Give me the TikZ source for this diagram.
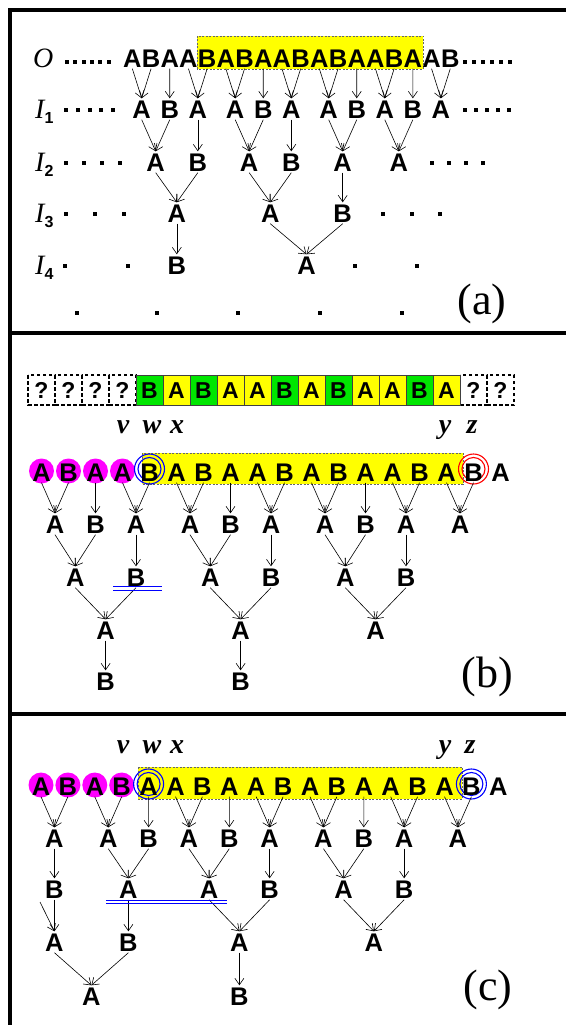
\documentclass[tikz,border=0pt]{standalone}
\usepackage{fontspec}
\setmainfont{Liberation Serif}
\setsansfont{Liberation Sans}
\usetikzlibrary{arrows.meta}
\definecolor{hlyel}{RGB}{255,255,0}
\definecolor{boxgrn}{RGB}{0,230,0}
\definecolor{cmag}{RGB}{255,0,255}
\definecolor{cblu}{RGB}{0,0,255}
\definecolor{cred}{RGB}{255,0,0}
\begin{document}
\begin{tikzpicture}[x=1pt,y=-1pt,
  lt/.style={font=\sffamily\bfseries\fontsize{25.5}{25.5}\selectfont, inner xsep=0pt, inner ysep=1.5pt, text height=18pt, text depth=0pt},
  bl/.style={font=\sffamily\bfseries\fontsize{23}{23}\selectfont, inner sep=0pt, text height=16pt, text depth=0pt},
  ar/.style={-{Straight Barb[length=6.5pt,width=9pt]}, line width=0.6pt},
  lab/.style={font=\bfseries\itshape\fontsize{28}{28}\selectfont, inner sep=0pt, text height=13pt, text depth=0pt},
  ilab/.style={font=\itshape\fontsize{28}{28}\selectfont, inner sep=0pt, anchor=west, text height=18pt, text depth=0pt},
  plab/.style={font=\fontsize{44}{44}\selectfont, inner sep=0pt},
  frame/.style={line width=4pt},
  hl/.style={fill=hlyel, draw=black!60, dash pattern=on 2pt off 1.5pt, line width=0.6pt},
  qbox/.style={draw, line width=1.8pt, dash pattern=on 3.5pt off 2.5pt},
  cbox/.style={draw=black!75, line width=0.8pt},
  dbl/.style={cblu, line width=1pt},
]
\useasboundingbox (0,0) rectangle (566,1025);
% frame
\draw[frame] (9.5,1025) -- (9.5,10.5) -- (566,10.5);
\draw[frame] (9.5,333) -- (566,333);
\draw[frame] (9.5,714) -- (566,714);

% ================= panel (a)
\draw[hl] (197,36) rectangle (423,69);
\foreach \c [count=\i from 0] in {A,B,A,A,B,A,B,A,A,B,A,B,A,A,B,A,A,B}
  \node[lt] (o\i) at ({123+18.7*(\i+0.5)},58) {\c};
\foreach \c/\x [count=\i from 0] in {A/141.7,B/169.75,A/197.8,A/235.2,B/263.25,A/291.3,A/328.7,B/356.75,A/384.8,B/412.85,A/440.9}
  \node[lt] (p\i) at (\x,109) {\c};
\foreach \c/\x [count=\i from 0] in {A/155.7,B/197.8,A/249.2,B/291.3,A/342.7,A/398.8}
  \node[lt] (q\i) at (\x,162) {\c};
\foreach \c/\x [count=\i from 0] in {A/176.8,A/270.3,B/342.7}
  \node[lt] (r\i) at (\x,213) {\c};
\foreach \c/\x [count=\i from 0] in {B/176.8,A/306.5}
  \node[lt] (s\i) at (\x,265) {\c};
\foreach \a/\b in {o0/p0,o1/p0,o2/p1,o3/p2,o4/p2,o5/p3,o6/p3,o7/p4,o8/p5,o9/p5,o10/p6,o11/p6,o12/p7,o13/p8,o14/p8,o15/p9,o16/p10,o17/p10,
  p0/q0,p1/q0,p2/q1,p3/q2,p4/q2,p5/q3,p6/q4,p7/q4,p8/q5,p9/q5,
  q0/r0,q1/r0,q2/r1,q3/r1,q4/r2,
  r0/s0,r1/s1,r2/s1}
  \draw[ar] (\a.south) -- (\b.north);
\node[ilab] (lO) at (33,58) {O};
\node[ilab] (lI1) at (35,109) {I\raisebox{-5pt}{\sffamily\bfseries\upshape\fontsize{16}{16}\selectfont 1}};
\node[ilab] (lI2) at (35,162) {I\raisebox{-5pt}{\sffamily\bfseries\upshape\fontsize{16}{16}\selectfont 2}};
\node[ilab] (lI3) at (35,213) {I\raisebox{-5pt}{\sffamily\bfseries\upshape\fontsize{16}{16}\selectfont 3}};
\node[ilab] (lI4) at (35,265) {I\raisebox{-5pt}{\sffamily\bfseries\upshape\fontsize{16}{16}\selectfont 4}};
\foreach \x/\y in {67/62,75.3/62,83.6/62,91.9/62,100.2/62,108.5/62,
  465/62,474/62,483/62,492/62,501/62,510/62,
  66/110,77.8/110,89.6/110,101.4/110,113.2/110,
  465/110,476/110,487/110,498/110,509/110,
  66/163,84/163,102/163,120/163,
  432/163,449/163,466/163,483/163,
  66/214,95/214,124/214,
  383/214,412/214,440/214,
  65/266,128/266,355/266,417/266,
  77/313,157/313,238/313,320/313,402/313}
  \fill (\x-2,\y-2) rectangle (\x+2,\y+2);
\node[plab] (pa) at (482,304) {(a)};

% ================= panel (b)
\foreach \i in {0,1,2,3,16,17} {
  \draw[qbox] ({28+27*\i},375) rectangle ({55+27*\i},405);
  \node[bl] (bq\i) at ({41.5+27*\i},390) {?};
}
\foreach \c/\col [count=\i from 4] in {B/boxgrn,A/hlyel,B/boxgrn,A/hlyel,A/hlyel,B/boxgrn,A/hlyel,B/boxgrn,A/hlyel,A/hlyel,B/boxgrn,A/hlyel} {
  \draw[cbox, fill=\col] ({28+27*\i},375) rectangle ({55+27*\i},405);
  \node[bl] (bc\i) at ({41.5+27*\i},390) {\c};
}
\node[lab] (bv) at (123,427) {v};
\node[lab] (bw) at (152,427) {w};
\node[lab] (bx) at (177,427) {x};
\node[lab] (by) at (445,427) {y};
\node[lab] (bz) at (472,427) {z};
\draw[hl] (142,453) rectangle (463,484);
\foreach \i in {0,...,3} \fill[cmag] ({41.5+27*\i},471) circle[radius=12.5pt];
\draw[cblu, line width=1.1pt] (149.5,469) circle[radius=15pt] circle[radius=11.5pt];
\draw[cred, line width=1.1pt] (473.5,469) circle[radius=15pt] circle[radius=11.5pt];
\foreach \c [count=\i from 0] in {A,B,A,A,B,A,B,A,A,B,A,B,A,A,B,A,B,A}
  \node[lt] (b\i) at ({41.5+27*\i},472) {\c};
\foreach \c/\x [count=\i from 0] in {A/55,B/95.5,A/136,A/190,B/230.5,A/271,A/325,B/365.5,A/406,A/460}
  \node[lt] (bL\i) at (\x,524) {\c};
\foreach \c/\x [count=\i from 0] in {A/75.25,B/136,A/210.25,B/271,A/345.25,B/406}
  \node[lt] (bM\i) at (\x,577) {\c};
\foreach \c/\x [count=\i from 0] in {A/105.6,A/240.6,A/375.6}
  \node[lt] (bN\i) at (\x,630) {\c};
\foreach \c/\x [count=\i from 0] in {B/105.6,B/240.6}
  \node[lt] (bP\i) at (\x,681) {\c};
\foreach \a/\b in {b0/bL0,b1/bL0,b2/bL1,b3/bL2,b4/bL2,b5/bL3,b6/bL3,b7/bL4,b8/bL5,b9/bL5,b10/bL6,b11/bL6,b12/bL7,b13/bL8,b14/bL8,b15/bL9,b16/bL9,
  bL0/bM0,bL1/bM0,bL2/bM1,bL3/bM2,bL4/bM2,bL5/bM3,bL6/bM4,bL7/bM4,bL8/bM5,
  bM0/bN0,bM1/bN0,bM2/bN1,bM3/bN1,bM4/bN2,bM5/bN2,
  bN0/bP0,bN1/bP1}
  \draw[ar] (\a.south) -- (\b.north);
\draw[dbl] (113,586.5) -- (162,586.5);
\draw[dbl] (113,590) -- (162,590);
\node[plab] (pb) at (487,677) {(b)};

% ================= panel (c)
\node[lab] (cv) at (123,747) {v};
\node[lab] (cw) at (152,747) {w};
\node[lab] (cx) at (177,747) {x};
\node[lab] (cy) at (445,747) {y};
\node[lab] (cz) at (470,747) {z};
\draw[hl] (138,767) rectangle (462,799);
\foreach \i in {0,...,3} \fill[cmag] ({41+26.9*\i},785) circle[radius=12.5pt];
\draw[cblu, line width=1.1pt] (148.6,784) circle[radius=15pt] circle[radius=11.5pt];
\draw[cblu, line width=1.1pt] (471.4,784) circle[radius=15pt] circle[radius=11.5pt];
\foreach \c [count=\i from 0] in {A,B,A,B,A,A,B,A,A,B,A,B,A,A,B,A,B,A}
  \node[lt] (c\i) at ({41+26.9*\i},786) {\c};
\foreach \c/\x [count=\i from 0] in {A/54.45,A/108.25,B/148.6,A/188.95,B/229.3,A/269.65,A/323.45,B/363.8,A/404.15,A/457.95}
  \node[lt] (cL\i) at (\x,838) {\c};
\foreach \c/\x [count=\i from 0] in {B/54.45,A/128.4,A/209.1,B/269.65,A/343.6,B/404.15}
  \node[lt] (cM\i) at (\x,889) {\c};
\foreach \c/\x [count=\i from 0] in {A/54.45,B/128.4,A/239.4,A/373.9}
  \node[lt] (cN\i) at (\x,942) {\c};
\foreach \c/\x [count=\i from 0] in {A/91.4,B/239.4}
  \node[lt] (cP\i) at (\x,996) {\c};
\coordinate (cext) at (40,902);
\foreach \a/\b in {c0/cL0,c1/cL0,c2/cL1,c3/cL1,c4/cL2,c5/cL3,c6/cL3,c7/cL4,c8/cL5,c9/cL5,c10/cL6,c11/cL6,c12/cL7,c13/cL8,c14/cL8,c15/cL9,c16/cL9,
  cL0/cM0,cL1/cM1,cL2/cM1,cL3/cM2,cL4/cM2,cL5/cM3,cL6/cM4,cL7/cM4,cL8/cM5,
  cM0/cN0,cM1/cN1,cM2/cN2,cM3/cN2,cM4/cN3,cM5/cN3,
  cN0/cP0,cN1/cP0,cN2/cP1}
  \draw[ar] (\a.south) -- (\b.north);
\draw[ar] (cext) -- (cN0.north);
\draw[dbl] (106,900) -- (227,900);
\draw[dbl] (106,903.5) -- (227,903.5);
\node[plab] (pc) at (488,990) {(c)};
\end{tikzpicture}
\end{document}
